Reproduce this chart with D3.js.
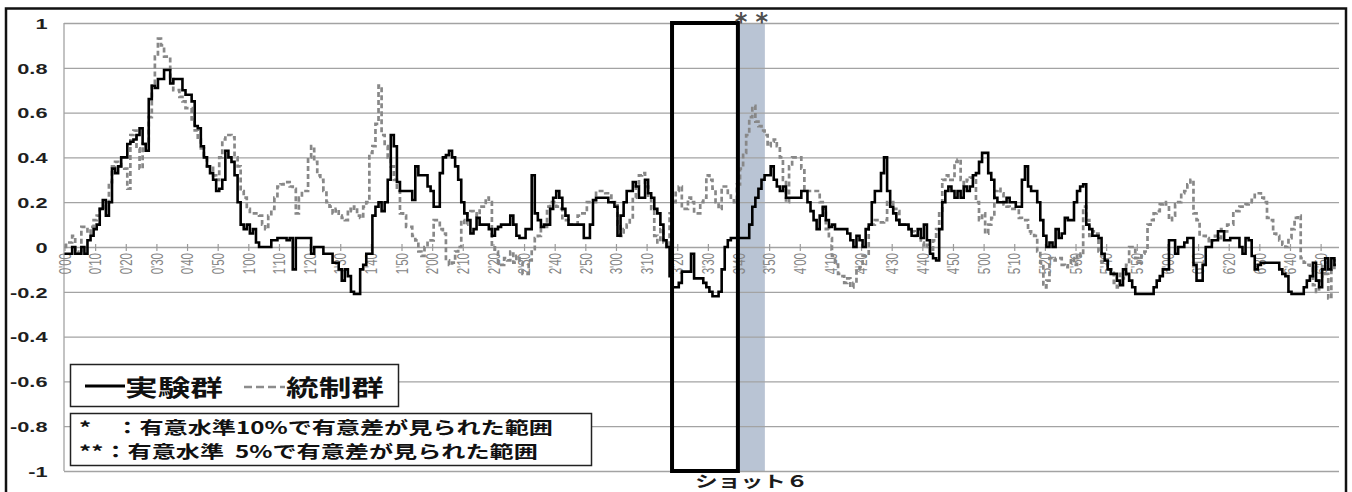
<!DOCTYPE html>
<html>
<head>
<meta charset="utf-8">
<script src="https://cdn.jsdelivr.net/npm/d3@7"></script>
<style>
  html, body { margin: 0; padding: 0; background: #fff; }
  svg { display: block; }
</style>
</head>
<body>
<svg id="chart" width="1352" height="492"></svg>
<script>
// Per-second values, 0'00 to 6'55
const experimental = [
  -0.03,-0.03,-0.03,0,-0.03,-0.03,0,-0.03,0.03,0.05,
  0.08,0.1,0.17,0.21,0.14,0.2,0.35,0.33,0.36,0.4,
  0.4,0.46,0.47,0.48,0.5,0.53,0.46,0.43,0.66,0.72,
  0.71,0.75,0.75,0.79,0.79,0.73,0.75,0.75,0.75,0.7,
  0.68,0.68,0.65,0.54,0.53,0.45,0.4,0.36,0.33,0.3,
  0.25,0.26,0.3,0.43,0.4,0.38,0.32,0.2,0.1,0.08,
  0.1,0.06,0.08,0.02,0,0,0,0,0.03,0.03,
  0.04,0.04,0.04,0.03,0.04,-0.1,0.04,0.04,0.04,0.04,
  0.04,-0.03,0,0,0,-0.03,-0.03,-0.03,-0.07,-0.07,
  -0.1,-0.15,-0.1,-0.13,-0.2,-0.21,-0.21,-0.1,-0.08,-0.03,
  -0.03,0.14,0.18,0.2,0.16,0.2,0.3,0.5,0.45,0.29,
  0.25,0.25,0.25,0.25,0.21,0.36,0.32,0.32,0.32,0.27,
  0.25,0.18,0.18,0.33,0.4,0.41,0.43,0.4,0.36,0.3,
  0.2,0.15,0.12,0.06,0.08,0.13,0.1,0.1,0.1,0.08,
  0.05,0.08,0.09,0.1,0.1,0.1,0.14,0.1,0.05,0.04,
  0.04,0.08,0.08,0.32,0.15,0.12,0.09,0.1,0.1,0.17,
  0.22,0.25,0.22,0.17,0.14,0.1,0.1,0.1,0.1,0.1,
  0.04,0.04,0.1,0.21,0.22,0.22,0.22,0.22,0.2,0.2,
  0.18,0.05,0.14,0.2,0.25,0.25,0.29,0.27,0.22,0.22,
  0.3,0.24,0.22,0.17,0.15,0.1,0.03,0,-0.13,-0.18,
  -0.18,-0.16,-0.11,-0.11,-0.11,-0.03,-0.14,-0.14,-0.14,-0.16,
  -0.18,-0.2,-0.22,-0.22,-0.2,-0.1,0,0.03,0.04,0.04,
  0.04,0.04,0.04,0.04,0.1,0.18,0.22,0.26,0.3,0.32,
  0.32,0.36,0.3,0.27,0.25,0.27,0.22,0.22,0.22,0.22,
  0.22,0.25,0.25,0.2,0.16,0.12,0.08,0.14,0.18,0.12,
  0.09,0.1,0.08,0.08,0.08,0.08,0.06,0.03,0,0.05,
  0.03,0,0.08,0.1,0.2,0.25,0.25,0.33,0.4,0.25,
  0.18,0.15,0.12,0.1,0.1,0.1,0.08,0.05,0.05,0.08,
  0.04,0.1,0.03,-0.03,-0.05,-0.06,0.08,0.2,0.25,0.27,
  0.25,0.22,0.25,0.22,0.27,0.25,0.27,0.32,0.33,0.38,
  0.42,0.42,0.33,0.3,0.22,0.2,0.2,0.2,0.22,0.2,
  0.2,0.18,0.18,0.3,0.36,0.27,0.25,0.25,0.2,0.12,
  0.05,0,0.02,0,0.08,0.04,0.06,0.13,0.12,0.12,
  0.2,0.25,0.27,0.28,0.1,0.08,0.05,0.05,0.04,-0.03,
  -0.06,-0.1,-0.12,-0.12,-0.15,-0.17,-0.1,-0.12,-0.15,-0.18,
  -0.21,-0.21,-0.21,-0.21,-0.21,-0.21,-0.18,-0.15,-0.13,-0.1,
  -0.1,0.03,0.03,-0.03,0,0,0.02,0.04,0.04,-0.08,
  -0.15,-0.15,-0.08,0,0,0.03,0.03,0.07,0.07,0.03,
  0.03,0.04,0.04,0.04,0,-0.03,0.04,0.03,-0.04,-0.1,
  -0.08,-0.07,-0.07,-0.07,-0.07,-0.07,-0.07,-0.1,-0.12,-0.13,
  -0.2,-0.21,-0.21,-0.21,-0.21,-0.18,-0.15,-0.13,-0.07,-0.15,
  -0.18,-0.1,-0.05,-0.1,-0.05,-0.08
];

const control = [
  0,0.02,0.02,0.05,-0.02,-0.03,0.09,0.09,0.06,0.09,
  0.12,0.14,0.17,0.17,0.2,0.29,0.36,0.38,0.37,0.36,
  0.35,0.26,0.5,0.52,0.44,0.35,0.46,0.46,0.58,0.72,
  0.85,0.93,0.9,0.85,0.85,0.75,0.7,0.7,0.67,0.65,
  0.62,0.62,0.57,0.52,0.48,0.44,0.4,0.36,0.36,0.32,
  0.3,0.4,0.48,0.5,0.5,0.49,0.4,0.36,0.25,0.22,
  0.17,0.15,0.15,0.15,0.14,0.1,0.08,0.14,0.17,0.22,
  0.27,0.28,0.29,0.29,0.27,0.26,0.15,0.22,0.25,0.25,
  0.4,0.45,0.38,0.32,0.3,0.25,0.2,0.18,0.15,0.17,
  0.14,0.13,0.12,0.17,0.16,0.18,0.14,0.13,0.18,0.2,
  0.42,0.45,0.55,0.72,0.5,0.45,0.4,0.36,0.3,0.25,
  0.15,0.14,0.09,0.09,0.05,0.03,-0.02,-0.04,0,0.03,
  0.03,0.12,0.12,0.08,0.06,-0.06,-0.08,-0.07,-0.02,0,
  0.12,0.1,0.15,0.16,0.15,0.14,0.18,0.18,0.22,0.2,
  0.01,-0.02,-0.08,-0.08,-0.05,-0.06,-0.02,-0.07,-0.04,-0.07,
  -0.12,-0.12,-0.06,-0.01,0.04,0.05,0.09,0.09,0.18,0.2,
  0.2,0.18,0.17,0.12,0.12,0.1,0.1,0.1,0.14,0.15,
  0.15,0.2,0.2,0.2,0.25,0.25,0.25,0.24,0.24,0.2,
  0.2,0.1,0.05,0.08,0.1,0.12,0.22,0.28,0.32,0.33,
  0.27,0.22,0.17,0.05,0.02,0.08,0.02,0,0.15,0.2,
  0.25,0.27,0.17,0.17,0.22,0.2,0.15,0.15,0.2,0.22,
  0.32,0.3,0.26,0.2,0.17,0.27,0.27,0.23,0.22,0.2,
  0.28,0.35,0.42,0.5,0.58,0.63,0.56,0.54,0.52,0.5,
  0.45,0.47,0.48,0.45,0.4,0.3,0.2,0.36,0.4,0.4,
  0.4,0.35,0.25,0.25,0.25,0.25,0.25,0.2,0.17,0.08,
  0.04,-0.04,-0.07,-0.12,-0.13,-0.16,-0.14,-0.18,-0.16,-0.1,
  -0.09,-0.04,-0.03,0.1,0.1,0.12,0.12,0.11,0.12,0.2,
  0.2,0.17,0.16,0.1,0.1,0.1,0.08,0.07,0.05,0.04,
  0.02,0,0.01,-0.02,0.03,0.08,0.15,0.3,0.32,0.3,
  0.3,0.38,0.39,0.3,0.28,0.3,0.31,0.31,0.2,0.12,
  0.15,0.06,0.1,0.13,0.25,0.26,0.24,0.19,0.18,0.17,
  0.17,0.17,0.13,0.12,0.12,0.07,0.06,0.05,-0.02,-0.07,
  -0.18,-0.15,-0.05,-0.06,-0.05,-0.05,-0.08,-0.09,-0.07,-0.05,
  -0.08,-0.03,-0.04,0.18,0.12,0.05,0.07,0.06,-0.02,-0.07,
  -0.07,-0.1,-0.1,-0.16,-0.18,-0.12,-0.14,-0.08,0,0,
  -0.05,-0.07,-0.03,-0.02,0.1,0.12,0.15,0.16,0.19,0.2,
  0.19,0.12,0.14,0.19,0.2,0.24,0.25,0.28,0.3,0.15,
  0.12,0.05,0.05,0.04,0.02,0.03,0.05,0.04,0.08,0.07,
  0.1,0.1,0.15,0.16,0.18,0.18,0.19,0.2,0.21,0.24,
  0.24,0.22,0.2,0.13,0.12,0.06,0.05,0.03,0.01,0,
  0.04,0.08,0.13,0.14,-0.05,-0.07,-0.08,-0.09,-0.17,-0.2,
  -0.15,-0.08,-0.12,-0.23,-0.1,-0.06
];

// Time labels, one every 10 seconds
const tickLabels = [
  "0'00","0'10","0'20","0'30","0'40","0'50",
  "1'00","1'10","1'20","1'30","1'40","1'50",
  "2'00","2'10","2'20","2'30","2'40","2'50",
  "3'00","3'10","3'20","3'30","3'40","3'50",
  "4'00","4'10","4'20","4'30","4'40","4'50",
  "5'00","5'10","5'20","5'30","5'40","5'50",
  "6'00","6'10","6'20","6'30","6'40","6'50"
];
const tickSeconds = [
  0,10,20,30,40,50,60,70,80,90,100,110,120,130,140,150,160,170,180,190,
  200,210,220,230,240,250,260,270,280,290,300,310,320,330,340,350,360,370,380,390,400,410
];
const yTicks = [1, 0.8, 0.6, 0.4, 0.2, 0, -0.2, -0.4, -0.6, -0.8, -1];

// Shot 6 interval (seconds) and the 5% significance interval
const shotRange = [198.3, 219.8];
const sigRange = [219.8, 228.6];

const legendSeries = ["実験群", "統制群"];
const noteLines = ["*\u3000：有意水準10%で有意差が見られた範囲", "**：有意水準  5%で有意差が見られた範囲"];
const shotLabel = "ショット６";
const sigMark = "* *";

const SX = 1.42;           // horizontal glyph stretch used throughout the figure
const jp = "'Noto Sans CJK JP', 'Noto Sans', sans-serif";
const latin = "'Liberation Sans', Arial, sans-serif";

const svg = d3.select("#chart");

const x = d3.scaleLinear().domain([0, 416]).range([64.5, 1339]);
const y = d3.scaleLinear().domain([-1, 1]).range([471, 23]);

// Outer frame
svg.append("rect")
  .attr("x", 6).attr("y", 8.5).attr("width", 1340).attr("height", 500)
  .attr("fill", "#fff").attr("stroke", "#111").attr("stroke-width", 2.5);

// Significance band
svg.append("rect")
  .attr("x", x(sigRange[0])).attr("y", y(1))
  .attr("width", x(sigRange[1]) - x(sigRange[0]))
  .attr("height", y(-1) - y(1))
  .attr("fill", "#b9c4d4");

// Horizontal gridlines
const grid = svg.append("g")
  .attr("transform", `translate(${x(0) - 0.5},0)`)
  .call(d3.axisLeft(y).tickValues(yTicks).tickSize(-(x.range()[1] - x(0) + 0.5)).tickFormat(""));
grid.select(".domain").remove();
grid.selectAll("line").attr("stroke", "#a3a3a3").attr("stroke-width", 1.3);

// Vertical axis line
svg.append("line")
  .attr("x1", x(0) - 0.5).attr("x2", x(0) - 0.5)
  .attr("y1", y(1)).attr("y2", y(-1))
  .attr("stroke", "#a3a3a3").attr("stroke-width", 1.3);

// Y-axis labels
const yAxis = svg.append("g")
  .attr("transform", `translate(${x(0)},0)`)
  .call(d3.axisLeft(y).tickValues(yTicks).tickSize(0).tickFormat(d => String(d)));
yAxis.select(".domain").remove();
yAxis.selectAll("text")
  .attr("x", 0)
  .attr("transform", `translate(-17,0) scale(${SX + 0.08},1)`)
  .attr("text-anchor", "end")
  .attr("dy", "0.36em")
  .style("font-family", latin)
  .style("font-size", "14.5px")
  .style("font-weight", "bold")
  .attr("fill", "#1f1f1f");

// Time axis along zero
const xAxis = svg.append("g")
  .attr("transform", `translate(0,${y(0)})`)
  .call(d3.axisBottom(x).tickValues(tickSeconds)
    .tickFormat((d, i) => tickLabels[i]).tickSize(4));
xAxis.select(".domain").remove();
xAxis.selectAll(".tick line")
  .attr("y1", -3).attr("y2", 4)
  .attr("stroke", "#9a9a9a").attr("stroke-width", 1.2);
xAxis.selectAll(".tick text")
  .attr("x", 0).attr("y", 0).attr("dy", "0.35em")
  .attr("transform", `translate(0,6) scale(${SX},1) rotate(-90)`)
  .attr("text-anchor", "end")
  .style("font-family", latin)
  .style("font-size", "11.5px")
  .attr("fill", "#858585");

// Series lines
const line = d3.line().x((d, i) => x(i)).y(d => y(d)).curve(d3.curveStep);

svg.append("path")
  .datum(control)
  .attr("d", line)
  .attr("fill", "none")
  .attr("stroke", "#888")
  .attr("stroke-width", 2.7)
  .attr("stroke-dasharray", "5,3");

svg.append("path")
  .datum(experimental)
  .attr("d", line)
  .attr("fill", "none")
  .attr("stroke", "#000")
  .attr("stroke-width", 2.6)
  .attr("stroke-linejoin", "miter");

// Shot 6 frame
svg.append("rect")
  .attr("x", x(shotRange[0])).attr("y", y(1))
  .attr("width", x(shotRange[1]) - x(shotRange[0]))
  .attr("height", y(-1) - y(1))
  .attr("fill", "none")
  .attr("stroke", "#000")
  .attr("stroke-width", 4);

svg.append("text")
  .attr("transform", `translate(${x(shotRange[0]) + 23},487) scale(${SX},1)`)
  .style("font-family", jp).style("font-size", "16px").style("font-weight", "bold")
  .attr("fill", "#1a1a1a")
  .text(shotLabel);

svg.append("text")
  .attr("transform", `translate(${x((sigRange[0] + sigRange[1]) / 2)},30)`)
  .attr("text-anchor", "middle")
  .style("font-family", "'DejaVu Sans', sans-serif").style("font-size", "24px")
  .style("font-weight", "bold")
  .attr("fill", "#505050")
  .text(sigMark);

// Series legend
const lg = svg.append("g");
lg.append("rect")
  .attr("x", 70.5).attr("y", 364.5).attr("width", 328).attr("height", 42)
  .attr("fill", "#fff").attr("stroke", "#222").attr("stroke-width", 1.5);
lg.append("line")
  .attr("x1", 85).attr("x2", 125).attr("y1", 386).attr("y2", 386)
  .attr("stroke", "#000").attr("stroke-width", 3);
lg.append("text")
  .attr("transform", `translate(125,396) scale(${SX},1)`)
  .style("font-family", jp).style("font-size", "23px").style("font-weight", "bold")
  .attr("fill", "#111")
  .text(legendSeries[0]);
lg.append("line")
  .attr("x1", 244).attr("x2", 285).attr("y1", 387).attr("y2", 387)
  .attr("stroke", "#8c8c8c").attr("stroke-width", 2.5).attr("stroke-dasharray", "8,4");
lg.append("text")
  .attr("transform", `translate(286,396) scale(${SX},1)`)
  .style("font-family", jp).style("font-size", "23px").style("font-weight", "bold")
  .attr("fill", "#111")
  .text(legendSeries[1]);

// Significance notes
const ng = svg.append("g");
ng.append("rect")
  .attr("x", 70.5).attr("y", 413.5).attr("width", 521).attr("height", 52)
  .attr("fill", "#fff").attr("stroke", "#222").attr("stroke-width", 1.5);
ng.selectAll("text").data(noteLines).join("text")
  .attr("transform", (d, i) => `translate(79,${434 + i * 24}) scale(${SX},1)`)
  .style("font-family", jp).style("font-size", "17px").style("font-weight", "bold")
  .attr("fill", "#111")
  .attr("xml:space", "preserve")
  .style("white-space", "pre")
  .text(d => d);
</script>
</body>
</html>
